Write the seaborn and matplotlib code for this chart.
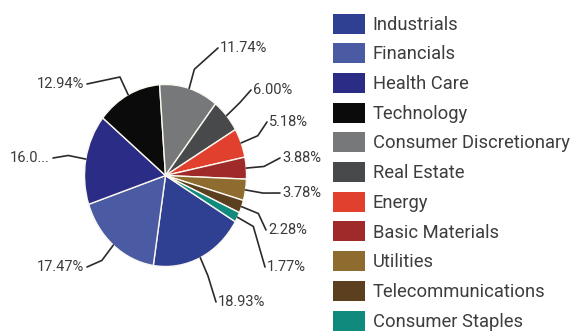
import matplotlib
matplotlib.use("Agg")
import matplotlib.pyplot as plt
from matplotlib.lines import Line2D
from matplotlib.patches import Patch
import numpy as np
import seaborn as sns

# Sector weights (%)
sectors = ["Industrials", "Financials", "Health Care", "Technology",
           "Consumer Discretionary", "Real Estate", "Energy",
           "Basic Materials", "Utilities", "Telecommunications",
           "Consumer Staples"]
weights = [18.93, 17.47, 16.03, 12.94, 11.74, 6.00, 5.18, 3.88, 3.78, 2.28, 1.77]
sector_colors = ["#2f3f91", "#4a5ba4", "#2a2c85", "#0b0b0b", "#76787a",
                 "#48494b", "#e2402f", "#9e2a2a", "#8e6c2f", "#5c3f1f",
                 "#0f8a7c"]

sns.set_theme(style="white")
plt.rcParams["font.family"] = ["Roboto", "DejaVu Sans"]

W, H, DPI = 572, 332, 100
fig = plt.figure(figsize=(W / DPI, H / DPI), dpi=DPI)
fig.patch.set_facecolor("white")

# pie box: centre and radii in pixels (slightly tall ellipse)
cx, cy, rx, ry = 165.5, 175.5, 81.0, 91.0
lim = 1.25
ax = fig.add_axes([(cx - lim * rx) / W, (H - cy - lim * ry) / H,
                   2 * lim * rx / W, 2 * lim * ry / H])
palette = sns.color_palette(sector_colors)
wedges, _ = ax.pie(weights, colors=palette, startangle=-30.5,
                   counterclock=False,
                   wedgeprops=dict(edgecolor="#fbf8f0", linewidth=1.0))
ax.set_aspect("auto")
ax.set_xlim(-lim, lim)
ax.set_ylim(-lim, lim)
ax.axis("off")

# value labels; the Health Care label is clipped at the left margin
labels = [f"{v:.2f}%" for v in weights]
hc = sectors.index("Health Care")
labels[hc] = labels[hc][:4] + "..."

# label anchors in figure pixels (x, y from top) and side of the pie
label_slots = [(218, 302, "l"), (84, 267, "r"), (50, 158, "r"),
               (84, 84, "r"), (220, 48, "l"), (253, 90, "l"),
               (269, 122, "l"), (282, 158, "l"), (282, 193, "l"),
               (268, 230, "l"), (267, 267, "l")]

to_fig = fig.transFigure.inverted()
line_color = "#2b2b2b"
for w, text, (lx, ly, side) in zip(wedges, labels, label_slots):
    mid = np.deg2rad((w.theta1 + w.theta2) / 2)
    edge = ax.transData.transform((np.cos(mid), np.sin(mid)))
    knee = ax.transData.transform((1.22 * np.cos(mid), 1.22 * np.sin(mid)))
    end = np.array([lx - 2 if side == "l" else lx + 3, H - ly])
    pts = to_fig.transform(np.vstack([edge, knee, end]))
    fig.add_artist(Line2D(pts[:, 0], pts[:, 1], color=line_color,
                          linewidth=1.2, transform=fig.transFigure))
    fig.text(lx / W, 1 - ly / H, text, ha="left" if side == "l" else "right",
             va="center", fontsize=10.5, color="#3a3a3a")

# legend column: plain colour squares
fs = 13.2
fs_px = fs * DPI / 72
box_h = 20.0
hh = (box_h - 0.245 * fs_px) / (0.65 * fs_px)
handles = [Patch(facecolor=c, edgecolor="none") for c in palette]
fig.legend(handles, sectors, loc="upper left",
           bbox_to_anchor=(333 / W, 1 - 13.5 / H), frameon=False,
           fontsize=fs, handlelength=32 / fs_px, handleheight=hh,
           handletextpad=0.42, labelspacing=0.522, borderpad=0,
           borderaxespad=0, labelcolor="#3d3d3d")

fig.savefig("out.png", dpi=DPI, facecolor="white")
